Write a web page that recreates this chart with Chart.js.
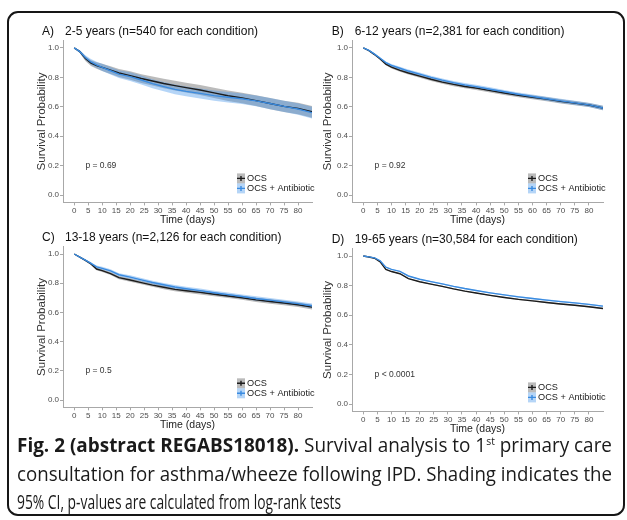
<!DOCTYPE html>
<html>
<head>
<meta charset="utf-8">
<script src="https://cdn.jsdelivr.net/npm/chart.js@4.4.0/dist/chart.umd.min.js"></script>
<style>
  body { margin: 0; background: #fff; width: 627px; height: 520px; overflow: hidden; position: relative; }
  #frame { position: absolute; left: 7px; top: 11px; width: 618px; height: 505px; box-sizing: border-box;
           border: 2px solid #161616; border-radius: 11px; }
  canvas { position: absolute; }
  #caption { position: absolute; left: 17px; top: 431px; font-family: "Open Sans", sans-serif; font-size: 20px; color: #1a1a1a; }
  #caption .ln { height: 28.5px; line-height: 28.5px; white-space: nowrap; transform-origin: 0 50%; }
  #caption b { font-weight: 700; }
  #caption sup { font-size: 11px; vertical-align: 7px; line-height: 0; }
</style>
</head>
<body>
<div id="frame"></div>
<canvas id="panelA" width="316" height="206" style="left:10px;top:22px"></canvas>
<canvas id="panelB" width="322" height="206" style="left:300px;top:22px"></canvas>
<canvas id="panelC" width="316" height="207" style="left:10px;top:226px"></canvas>
<canvas id="panelD" width="322" height="209" style="left:300px;top:228px"></canvas>
<div id="caption">
  <div class="ln"><b>Fig. 2 (abstract REGABS18018).</b> Survival analysis to 1<sup>st</sup> primary care</div>
  <div class="ln">consultation for asthma/wheeze following IPD. Shading indicates the</div>
  <div class="ln">95% CI, p-values are calculated from log-rank tests</div>
</div>
<script>
const days = [0, 2, 4, 6, 8, 10, 13, 16, 20, 24, 28, 32, 36, 40, 45, 50, 55, 60, 65, 70, 75, 80, 85];

// A) 2-5 years
const ocsA = [1.0, 0.975, 0.928, 0.897, 0.880, 0.868, 0.849, 0.830, 0.812, 0.792, 0.775, 0.758, 0.744, 0.730, 0.714, 0.695, 0.675, 0.660, 0.642, 0.622, 0.603, 0.588, 0.566];
const abxA = [1.0, 0.975, 0.935, 0.905, 0.885, 0.868, 0.845, 0.822, 0.805, 0.782, 0.757, 0.737, 0.718, 0.705, 0.691, 0.676, 0.665, 0.655, 0.640, 0.622, 0.603, 0.585, 0.560];
const ciA  = [0, 0.010, 0.016, 0.020, 0.022, 0.024, 0.026, 0.027, 0.029, 0.030, 0.031, 0.032, 0.033, 0.033, 0.034, 0.035, 0.036, 0.036, 0.037, 0.038, 0.038, 0.039, 0.040];

// B) 6-12 years
const ocsB = [1.0, 0.982, 0.955, 0.925, 0.890, 0.870, 0.848, 0.830, 0.808, 0.787, 0.768, 0.752, 0.738, 0.727, 0.710, 0.694, 0.678, 0.665, 0.652, 0.637, 0.625, 0.612, 0.592];
const abxB = [1.0, 0.983, 0.958, 0.930, 0.900, 0.882, 0.862, 0.843, 0.822, 0.800, 0.781, 0.764, 0.749, 0.737, 0.719, 0.702, 0.685, 0.670, 0.655, 0.640, 0.627, 0.613, 0.592];
const ciB  = [0, 0.004, 0.006, 0.007, 0.008, 0.009, 0.010, 0.010, 0.011, 0.011, 0.012, 0.012, 0.012, 0.013, 0.013, 0.013, 0.013, 0.014, 0.014, 0.014, 0.014, 0.014, 0.015];

// C) 13-18 years
const ocsC = [1.0, 0.978, 0.956, 0.932, 0.897, 0.886, 0.866, 0.838, 0.822, 0.804, 0.787, 0.772, 0.758, 0.748, 0.737, 0.724, 0.712, 0.700, 0.686, 0.675, 0.664, 0.652, 0.636];
const abxC = [1.0, 0.979, 0.958, 0.936, 0.912, 0.902, 0.885, 0.858, 0.842, 0.823, 0.805, 0.789, 0.774, 0.762, 0.749, 0.735, 0.722, 0.709, 0.695, 0.684, 0.672, 0.660, 0.645];
const ciC  = [0, 0.004, 0.006, 0.008, 0.009, 0.010, 0.010, 0.011, 0.012, 0.012, 0.012, 0.013, 0.013, 0.013, 0.014, 0.014, 0.014, 0.014, 0.015, 0.015, 0.015, 0.015, 0.016];

// D) 19-65 years
const ocsD = [1.0, 0.993, 0.985, 0.960, 0.910, 0.895, 0.880, 0.847, 0.826, 0.810, 0.795, 0.778, 0.763, 0.750, 0.734, 0.720, 0.707, 0.697, 0.686, 0.676, 0.667, 0.657, 0.645];
const abxD = [1.0, 0.994, 0.987, 0.968, 0.925, 0.910, 0.896, 0.865, 0.843, 0.827, 0.812, 0.795, 0.780, 0.767, 0.751, 0.737, 0.724, 0.713, 0.702, 0.692, 0.683, 0.673, 0.661];
const ciD  = [0, 0.001, 0.002, 0.002, 0.003, 0.003, 0.003, 0.003, 0.004, 0.004, 0.004, 0.004, 0.004, 0.004, 0.004, 0.004, 0.005, 0.005, 0.005, 0.005, 0.005, 0.005, 0.005];

const xTicks = [0, 5, 10, 15, 20, 25, 30, 35, 40, 45, 50, 55, 60, 65, 70, 75, 80];
const yTicks = [0, 0.2, 0.4, 0.6, 0.8, 1.0];
const legendLabels = ['OCS', 'OCS + Antibiotic'];

const colors = {
  ocs: '#1c1c1c',
  abx: '#3a8be0',
  ocsBand: 'rgba(105,105,105,0.45)',
  abxBand: 'rgba(70,150,235,0.40)',
  axis: '#a8a8a8',
  tick: '#4d4d4d'
};
const FONT = '"Liberation Sans", Arial, sans-serif';

// panel titles, p values and legend
const decor = {
  id: 'decor',
  afterDraw(chart, args, o) {
    const { ctx, chartArea: a, scales: { x, y } } = chart;
    ctx.save();
    ctx.textBaseline = 'middle';
    ctx.textAlign = 'left';

    ctx.fillStyle = '#111';
    ctx.font = '12px ' + FONT;
    ctx.fillText(o.tag, o.tx, o.ty);
    ctx.fillText(o.title, o.tx + 23, o.ty);

    ctx.fillStyle = '#333';
    ctx.font = '8.5px ' + FONT;
    ctx.fillText(o.p, x.getPixelForValue(4), y.getPixelForValue(0.2));

    // legend, bottom right inside the plot
    const tx = a.right - 65;
    const rows = [
      { label: legendLabels[0], band: colors.ocsBand, line: colors.ocs, cy: a.bottom - 24 },
      { label: legendLabels[1], band: colors.abxBand, line: colors.abx, cy: a.bottom - 14 }
    ];
    ctx.font = '9.2px ' + FONT;
    rows.forEach(r => {
      ctx.fillStyle = r.band;
      ctx.fillRect(tx - 10, r.cy - 5, 8, 10);
      ctx.strokeStyle = r.line;
      ctx.lineWidth = 1.4;
      ctx.beginPath();
      ctx.moveTo(tx - 10, r.cy); ctx.lineTo(tx - 2, r.cy);
      ctx.moveTo(tx - 6, r.cy - 2.5); ctx.lineTo(tx - 6, r.cy + 2.5);
      ctx.stroke();
      ctx.fillStyle = '#1a1a1a';
      ctx.fillText(r.label, tx, r.cy);
    });
    ctx.restore();
  }
};

function toPts(vals, ci, sign) {
  return days.map((d, i) => ({ x: d, y: ci ? vals[i] + sign * ci[i] : vals[i] }));
}

function makePanel(id, lay, tag, title, p, ocs, abx, ci) {
  const band = (vals, color, order) => [
    { data: toPts(vals, ci, 1), borderWidth: 0, pointRadius: 0, fill: false, order },
    { data: toPts(vals, ci, -1), borderWidth: 0, pointRadius: 0, fill: '-1', backgroundColor: color, order }
  ];
  const datasets = [
    ...band(ocs, colors.ocsBand, 3),
    ...band(abx, colors.abxBand, 2),
    { label: legendLabels[0], data: toPts(ocs), borderColor: colors.ocs, borderWidth: 1.4, pointRadius: 0, fill: false, order: 1 },
    { label: legendLabels[1], data: toPts(abx), borderColor: colors.abx, borderWidth: 1.4, pointRadius: 0, fill: false, order: 0 }
  ];
  const gridOpts = { drawOnChartArea: false, drawTicks: true, tickLength: 3, color: colors.axis };
  return new Chart(document.getElementById(id), {
    type: 'line',
    data: { datasets },
    options: {
      responsive: false,
      animation: false,
      layout: { padding: lay.pad },
      plugins: {
        legend: { display: false },
        tooltip: { enabled: false },
        decor: { tag, title, p, tx: lay.tx, ty: lay.ty }
      },
      scales: {
        x: {
          type: 'linear', min: -4, max: 85,
          grid: gridOpts,
          border: { display: true, color: colors.axis },
          afterBuildTicks: s => { s.ticks = xTicks.map(v => ({ value: v })); },
          afterFit: s => { s.height = 24; },
          ticks: { autoSkip: false, maxRotation: 0, padding: 1, color: colors.tick, font: { family: FONT, size: 8 } },
          title: { display: true, text: 'Time (days)', color: '#222', padding: 0, font: { family: FONT, size: 10.5 } }
        },
        y: {
          min: -0.05, max: 1.05,
          grid: gridOpts,
          border: { display: true, color: colors.axis },
          afterBuildTicks: s => { s.ticks = yTicks.map(v => ({ value: v })); },
          afterFit: s => { s.width = lay.yW; },
          ticks: { padding: 1, color: colors.tick, font: { family: FONT, size: 8 }, callback: v => v.toFixed(1) },
          title: { display: true, text: 'Survival Probability', color: '#333', padding: 0, font: { family: FONT, size: 11.5 } }
        }
      }
    },
    plugins: [decor]
  });
}

const layouts = {
  A: { pad: { left: 25, top: 18.6, right: 14, bottom: 1.6 }, yW: 28, tx: 32, ty: 10 },
  B: { pad: { left: 21, top: 18.6, right: 19, bottom: 1.6 }, yW: 31, tx: 31.7, ty: 10 },
  C: { pad: { left: 25, top: 20.7, right: 14, bottom: 1.7 }, yW: 28, tx: 32, ty: 12 },
  D: { pad: { left: 21, top: 20.6, right: 19, bottom: 1.6 }, yW: 31, tx: 31.7, ty: 11.5 }
};

makePanel('panelA', layouts.A, 'A)', '2-5 years (n=540 for each condition)', 'p = 0.69', ocsA, abxA, ciA);
makePanel('panelB', layouts.B, 'B)', '6-12 years (n=2,381 for each condition)', 'p = 0.92', ocsB, abxB, ciB);
makePanel('panelC', layouts.C, 'C)', '13-18 years (n=2,126 for each condition)', 'p = 0.5', ocsC, abxC, ciC);
makePanel('panelD', layouts.D, 'D)', '19-65 years (n=30,584 for each condition)', 'p < 0.0001', ocsD, abxD, ciD);

// caption: squeeze each line to the width it has in the figure
const lineWidths = [595, 595, 324];
document.querySelectorAll('#caption .ln').forEach((el, i) => {
  el.style.display = 'inline-block';
  const w = el.getBoundingClientRect().width;
  el.style.display = 'block';
  el.style.transform = 'scaleX(' + (lineWidths[i] / w) + ')';
});
</script>
</body>
</html>
